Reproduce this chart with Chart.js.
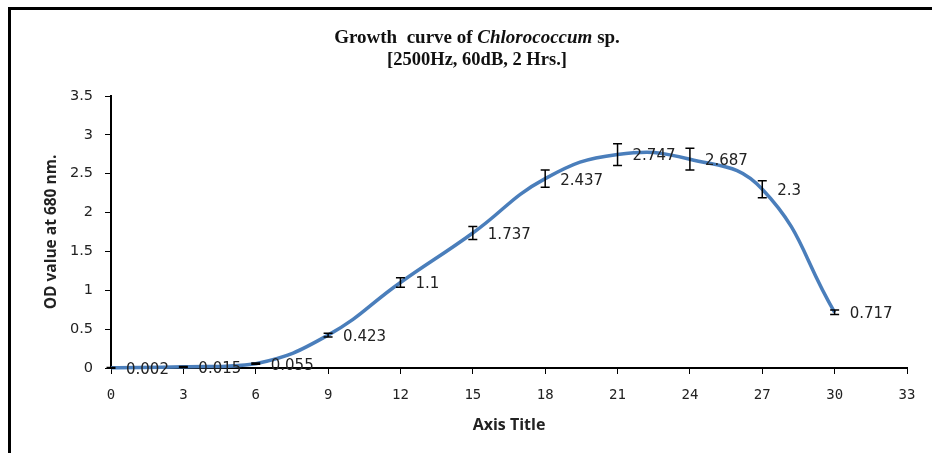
<!DOCTYPE html>
<html>
<head>
<meta charset="utf-8">
<script src="https://cdn.jsdelivr.net/npm/chart.js@4/dist/chart.umd.min.js"></script>
<style>
html,body{margin:0;padding:0;background:#fff;}
#wrap{width:932px;height:453px;position:relative;}
</style>
</head>
<body>
<div id="wrap"><canvas id="c" width="932" height="453"></canvas></div>
<script>
const days = [0, 3, 6, 9, 12, 15, 18, 21, 24, 27, 30];
const odValues = [0.002, 0.015, 0.055, 0.423, 1.1, 1.737, 2.437, 2.747, 2.687, 2.3, 0.717];
const odErrors = [0.004, 0.004, 0.008, 0.025, 0.06, 0.085, 0.11, 0.14, 0.14, 0.11, 0.03];
const valueLabels = ['0.002', '0.015', '0.055', '0.423', '1.1', '1.737', '2.437', '2.747', '2.687', '2.3', '0.717'];
const titleLine1 = [['Growth  curve of ', false], ['Chlorococcum', true], [' sp.', false]];
const titleLine2 = '[2500Hz, 60dB, 2 Hrs.]';
const yTitle = 'OD value at 680 nm.';
const xTitle = 'Axis Title';

const frame = {
  id: 'frame',
  beforeDraw(chart) {
    const ctx = chart.ctx;
    ctx.save();
    ctx.fillStyle = '#fff';
    ctx.fillRect(0, 0, chart.width, chart.height);
    ctx.fillStyle = '#000';
    ctx.fillRect(8, 7, chart.width - 8, 3);
    ctx.fillRect(8, 7, 3, chart.height - 7);
    ctx.restore();
  },
  afterDraw(chart) {
    const ctx = chart.ctx;
    const ca = chart.chartArea;
    ctx.save();
    ctx.fillStyle = '#111';
    const size = 19;
    let parts = titleLine1.map(([t, it]) => {
      ctx.font = (it ? 'italic ' : '') + 'bold ' + size + 'px "Liberation Serif"';
      return {t, it, w: ctx.measureText(t).width};
    });
    const total = parts.reduce((s, p) => s + p.w, 0);
    let x = 477 - total / 2;
    ctx.textBaseline = 'middle';
    ctx.textAlign = 'left';
    parts.forEach(p => {
      ctx.font = (p.it ? 'italic ' : '') + 'bold ' + size + 'px "Liberation Serif"';
      ctx.fillText(p.t, x, 38);
      x += p.w;
    });
    ctx.font = 'bold 18.5px "Liberation Serif"';
    ctx.textAlign = 'center';
    ctx.fillText(titleLine2, 477, 60);
    ctx.fillStyle = '#222';
    ctx.font = 'bold 16px "Open Sans"';
    ctx.fillText(xTitle, (ca.left + ca.right) / 2, 425);
    ctx.save();
    ctx.translate(52, (ca.top + ca.bottom) / 2);
    ctx.rotate(-Math.PI / 2);
    ctx.font = 'bold 15.5px "Open Sans"';
    ctx.fillText(yTitle, 0, 0);
    ctx.restore();
    ctx.restore();
  }
};

const errAndLabels = {
  id: 'errAndLabels',
  afterDatasetsDraw(chart) {
    const ctx = chart.ctx;
    const xs = chart.scales.x, ys = chart.scales.y;
    ctx.save();
    ctx.strokeStyle = '#000';
    ctx.lineWidth = 1.5;
    days.forEach((d, i) => {
      const px = xs.getPixelForValue(d);
      const top = ys.getPixelForValue(odValues[i] + odErrors[i]);
      const bot = ys.getPixelForValue(odValues[i] - odErrors[i]);
      ctx.beginPath();
      ctx.moveTo(px, top); ctx.lineTo(px, bot);
      ctx.moveTo(px - 4.5, top); ctx.lineTo(px + 4.5, top);
      ctx.moveTo(px - 4.5, bot); ctx.lineTo(px + 4.5, bot);
      ctx.stroke();
    });
    ctx.fillStyle = '#222';
    ctx.font = '15px "DejaVu Sans"';
    ctx.textAlign = 'left';
    ctx.textBaseline = 'middle';
    days.forEach((d, i) => {
      const px = xs.getPixelForValue(d);
      const py = ys.getPixelForValue(odValues[i]);
      ctx.fillText(valueLabels[i], px + 15, py + 2);
    });
    ctx.restore();
  }
};

new Chart(document.getElementById('c'), {
  type: 'line',
  data: {
    datasets: [{
      data: days.map((d, i) => ({x: d, y: odValues[i]})),
      borderColor: '#4a7ebb',
      borderWidth: 3.5,
      pointRadius: 0,
      tension: 0.45,
      fill: false,
      clip: false
    }]
  },
  options: {
    responsive: false,
    animation: false,
    events: [],
    layout: {padding: {left: 0, right: 25, top: 96, bottom: 0}},
    plugins: {legend: {display: false}, tooltip: {enabled: false}},
    scales: {
      x: {
        type: 'linear', min: 0, max: 33,
        afterFit(s) { s.height = 85; },
        ticks: {stepSize: 3, color: '#222', padding: 13, font: {family: '"DejaVu Sans Mono"', size: 14}},
        grid: {drawOnChartArea: false, drawTicks: true, tickLength: 6, color: '#000', lineWidth: 1},
        border: {color: '#000', width: 2}
      },
      y: {
        min: 0, max: 3.5,
        afterFit(s) { s.width = 111; },
        ticks: {stepSize: 0.5, color: '#222', padding: 12,
          callback: (v) => String(Math.round(v * 10) / 10),
          font: {family: '"DejaVu Sans"', size: 14.5}},
        grid: {drawOnChartArea: false, drawTicks: true, tickLength: 6, color: '#000', lineWidth: 1},
        border: {color: '#000', width: 2}
      }
    }
  },
  plugins: [frame, errAndLabels]
});
</script>
</body>
</html>
